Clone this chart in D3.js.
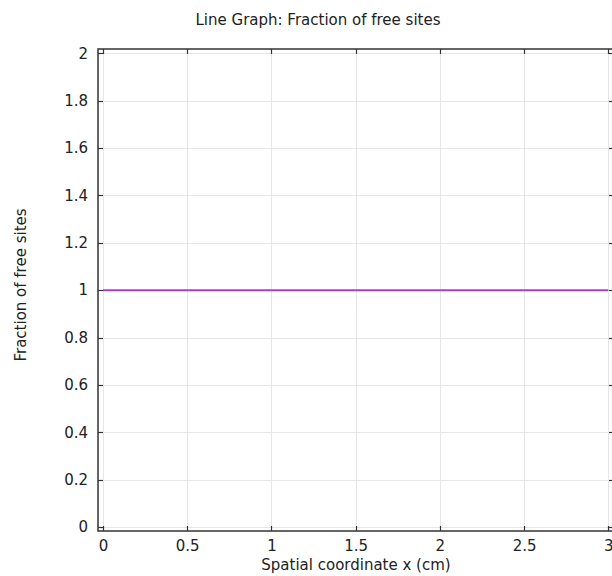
<!DOCTYPE html>
<html>
<head>
<meta charset="utf-8">
<script src="https://cdn.jsdelivr.net/npm/d3@7"></script>
<style>
  html, body { margin: 0; padding: 0; background: #fff; }
  svg { display: block; }
  text { font-family: "DejaVu Sans", sans-serif; fill: #222; }
</style>
</head>
<body>
<svg id="chart" width="612" height="576"></svg>
<script>
// Line graph data: fraction of free sites along x (cm)
const xValues = [0, 0.5, 1, 1.5, 2, 2.5, 3];
const freeSites = [1, 1, 1, 1, 1, 1, 1];
const xTicks = [0, 0.5, 1, 1.5, 2, 2.5, 3];
const yTicks = [0, 0.2, 0.4, 0.6, 0.8, 1, 1.2, 1.4, 1.6, 1.8, 2];

const titleText = "Line Graph: Fraction of free sites";
const xLabel = "Spatial coordinate x (cm)";
const yLabel = "Fraction of free sites";

const svg = d3.select("#chart");
const fontSize = 15;

// frame of the axes box and the inset data area
const frame = { left: 98, right: 614, top: 49, bottom: 531 };
const x = d3.scaleLinear().domain([0, 3]).range([103, 608.3]);
const y = d3.scaleLinear().domain([0, 2]).range([527, 53.3]);
const px = v => Math.round(v) + 0.5;

// grid
const grid = svg.append("g").attr("stroke", "#e6e6e6").attr("stroke-width", 1);
grid.selectAll("line.v").data(xTicks).join("line")
  .attr("class", "v")
  .attr("x1", d => px(x(d))).attr("x2", d => px(x(d)))
  .attr("y1", frame.top).attr("y2", frame.bottom);
grid.selectAll("line.h").data(yTicks).join("line")
  .attr("class", "h")
  .attr("x1", frame.left).attr("x2", frame.right)
  .attr("y1", d => px(y(d))).attr("y2", d => px(y(d)));

// data line
const line = d3.line().x((d, i) => x(xValues[i])).y(d => y(d));
svg.append("path")
  .datum(freeSites)
  .attr("fill", "none")
  .attr("stroke", "#a23fd2")
  .attr("stroke-width", 2)
  .attr("d", line);

// axis labels from d3 axes (tick lines drawn separately, pointing inward)
const axisBottom = d3.axisBottom(x).tickValues(xTicks).tickSize(0).tickPadding(10)
  .tickFormat(d3.format("~g"));
const gx = svg.append("g").attr("transform", `translate(0,${frame.bottom})`).call(axisBottom);
gx.select(".domain").remove();
gx.selectAll("text")
  .attr("y", 20).attr("dy", 0)
  .attr("font-size", fontSize).attr("font-family", "DejaVu Sans, sans-serif").attr("fill", "#222");

const axisLeft = d3.axisLeft(y).tickValues(yTicks).tickSize(0).tickPadding(10)
  .tickFormat(d3.format("~g"));
const gy = svg.append("g").attr("transform", `translate(${frame.left},0)`).call(axisLeft);
gy.select(".domain").remove();
gy.selectAll("text")
  .attr("font-size", fontSize).attr("font-family", "DejaVu Sans, sans-serif").attr("fill", "#222");

const tickLen = 5;
const ticks = svg.append("g").attr("stroke", "#333").attr("stroke-width", 1.2);
ticks.selectAll("line.b").data(xTicks).join("line")
  .attr("x1", d => px(x(d))).attr("x2", d => px(x(d)))
  .attr("y1", frame.bottom).attr("y2", frame.bottom - tickLen);
ticks.selectAll("line.t").data(xTicks).join("line")
  .attr("x1", d => px(x(d))).attr("x2", d => px(x(d)))
  .attr("y1", frame.top).attr("y2", frame.top + tickLen);
ticks.selectAll("line.l").data(yTicks).join("line")
  .attr("x1", frame.left).attr("x2", frame.left + tickLen)
  .attr("y1", d => px(y(d))).attr("y2", d => px(y(d)));
ticks.selectAll("line.r").data(yTicks).join("line")
  .attr("x1", frame.right).attr("x2", frame.right - tickLen)
  .attr("y1", d => px(y(d))).attr("y2", d => px(y(d)));

// frame
svg.append("rect")
  .attr("x", frame.left).attr("y", frame.top)
  .attr("width", frame.right - frame.left).attr("height", frame.bottom - frame.top)
  .attr("fill", "none").attr("stroke", "#333").attr("stroke-width", 1.5);

// title and axis labels
svg.append("text")
  .attr("x", 318).attr("y", 25)
  .attr("text-anchor", "middle").attr("font-size", fontSize)
  .text(titleText);
svg.append("text")
  .attr("x", 356).attr("y", 569.5)
  .attr("text-anchor", "middle").attr("font-size", fontSize)
  .text(xLabel);
svg.append("text")
  .attr("transform", `translate(25.5,285) rotate(-90)`)
  .attr("text-anchor", "middle").attr("font-size", fontSize)
  .text(yLabel);
</script>
</body>
</html>
